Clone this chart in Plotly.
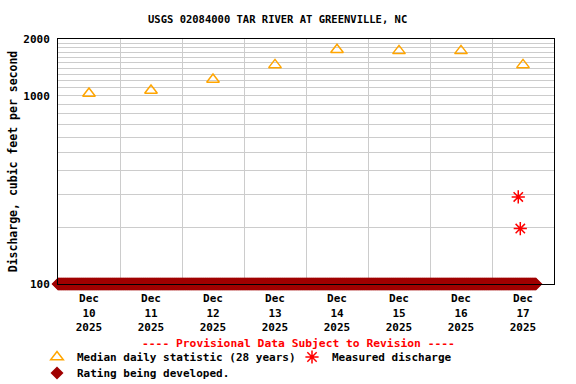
import pandas as pd
import plotly.graph_objects as go

# ---- data ----
median_dates = ["2025-12-10 12:00", "2025-12-11 12:00", "2025-12-12 12:00", "2025-12-13 12:00",
                "2025-12-14 12:00", "2025-12-15 12:00", "2025-12-16 12:00", "2025-12-17 12:00"]
median_values = [1028, 1065, 1218, 1457, 1752, 1730, 1730, 1457]

measured_times = ["2025-12-17 10:10", "2025-12-17 10:57"]
measured_values = [290, 197]

rating_start = "2025-12-10 00:00"
rating_end = "2025-12-17 17:00"
rating_times = pd.date_range(rating_start, rating_end, freq="15min")
rating_values = [100] * len(rating_times)

tick_dates = median_dates
tick_labels = ["Dec<br>10<br>2025", "Dec<br>11<br>2025", "Dec<br>12<br>2025", "Dec<br>13<br>2025",
               "Dec<br>14<br>2025", "Dec<br>15<br>2025", "Dec<br>16<br>2025", "Dec<br>17<br>2025"]
y_grid_vals = list(range(100, 2001, 100))
y_tick_text = [str(v) if v in (100, 1000, 2000) else "" for v in y_grid_vals]

FONT = "DejaVu Sans Mono"

fig = go.Figure()
fig.add_trace(go.Scatter(
    x=rating_times, y=rating_values, mode="markers", name="Rating being developed.",
    marker=dict(symbol="diamond", size=10, color="#A00000"),
    cliponaxis=False, legend="legend3"))
fig.add_trace(go.Scatter(
    x=median_dates, y=median_values, mode="markers", name="Median daily statistic (28 years)",
    marker=dict(symbol="triangle-up-open", size=11, color="#FFA500", line=dict(width=1.5, color="#FFA500")),
    legend="legend"))
fig.add_trace(go.Scatter(
    x=measured_times, y=measured_values, mode="markers", name="Measured discharge",
    marker=dict(symbol="asterisk-open", size=11, color="#FF0000", line=dict(width=1.5, color="#FF0000")),
    legend="legend2"))

legend_font = dict(family=FONT, size=11, color="black", weight="bold")


def legend_box(px, py):
    return dict(orientation="h", x=px / 576, xanchor="left", xref="container",
                y=1 - py / 384, yanchor="middle", yref="container",
                bgcolor="rgba(0,0,0,0)", itemclick=False, font=legend_font)


fig.update_layout(
    width=576, height=384,
    margin=dict(l=58, r=22, t=39, b=100),
    paper_bgcolor="white", plot_bgcolor="white",
    font=dict(family=FONT, size=11, color="black", weight="bold"),
    title=dict(text="USGS 02084000 TAR RIVER AT GREENVILLE, NC", x=0.482, xanchor="center",
               xref="container", y=1 - 19 / 384, yanchor="middle",
               font=dict(family=FONT, size=10.5, color="black", weight="bold")),
    xaxis=dict(
        type="date", range=["2025-12-10 00:00", "2025-12-18 00:00"],
        tickvals=tick_dates, ticktext=tick_labels, ticks="", showgrid=False,
        showline=True, linecolor="black", linewidth=1, mirror=True,
        ticklabelstandoff=4, automargin=False,
        tickfont=dict(family=FONT, size=11, color="black", weight="bold"),
        minor=dict(dtick=86400000, tick0="2025-12-10", showgrid=True, gridcolor="#CCCCCC", gridwidth=1),
        zeroline=False, fixedrange=True),
    yaxis=dict(
        type="log", range=[2, 3.30103],
        tickvals=y_grid_vals, ticktext=y_tick_text, ticks="",
        showgrid=True, gridcolor="#CCCCCC", gridwidth=1,
        showline=True, linecolor="black", linewidth=1, mirror=True,
        ticklabelstandoff=5, automargin=False,
        tickfont=dict(family=FONT, size=11, color="black", weight="bold"),
        title=dict(text="Discharge, cubic feet per second", standoff=3,
                   font=dict(family=FONT, size=11.5, color="black", weight="bold")),
        zeroline=False, fixedrange=True),
    legend=legend_box(37, 357),
    legend2=legend_box(292, 357),
    legend3=legend_box(37, 373),
    showlegend=True,
    annotations=[dict(text="---- Provisional Data Subject to Revision ----", xref="paper", yref="paper",
                      x=(298.5 - 58) / 496, y=(284 - 343) / 245, xanchor="center", yanchor="middle",
                      showarrow=False,
                      font=dict(family=FONT, size=11.3, color="#FF0000", weight="bold"))],
)

fig.write_html("out.html", config={"displayModeBar": False},
               post_script="document.body.style.margin='0px';")
